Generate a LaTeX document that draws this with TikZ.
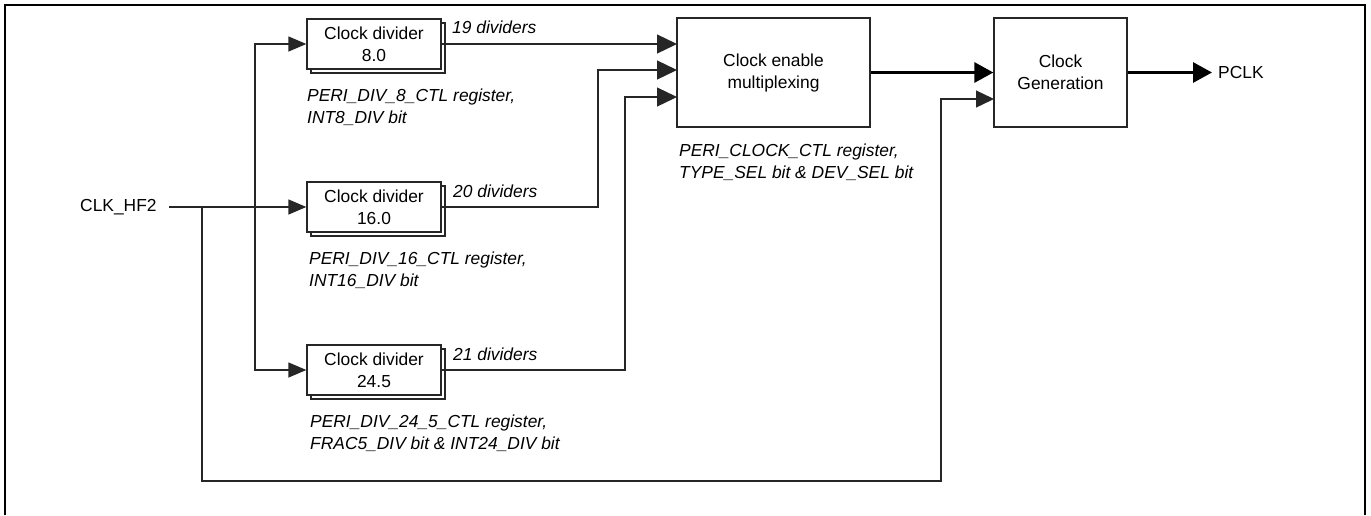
\documentclass[tikz,border=0pt]{standalone}
\usepackage{fontspec}
\setmainfont{Liberation Sans}
\usetikzlibrary{arrows.meta,shadows}
\begin{document}
\begin{tikzpicture}[x=1pt,y=-1pt,
  font=\fontsize{17.4}{22}\selectfont,
  ln/.style={line width=1.3pt,draw=black!85},
  arr/.style={ln,-{Triangle[length=18pt,width=15pt]}},
  marr/.style={ln,-{Triangle[length=20pt,width=19pt]}},
  garr/.style={ln,-{Triangle[length=18pt,width=17pt]}},
  tarr/.style={line width=3pt,draw=black,-{Triangle[length=19pt,width=20pt]}},
  divbox/.style={draw=black!85,line width=1.3pt,fill=white,minimum width=134pt,minimum height=50pt,inner sep=0pt,align=center,
     copy shadow={shadow xshift=4pt,shadow yshift=-4pt,draw=black!85,line width=1.3pt,fill=white}},
  bigbox/.style={draw=black!85,line width=1.3pt,minimum height=109pt,inner sep=0pt,align=center},
  lbl/.style={inner sep=0pt,anchor=west,align=left,font=\fontsize{17.4}{22}\selectfont\itshape},
  plain/.style={inner sep=0pt}]
\useasboundingbox (0,0) rectangle (1371,515);
% frame
\draw[line width=2.5pt] (5,515) -- (5,5) -- (1365,5) -- (1365,515);

% boxes
\node[divbox] (d8) at (374,44) {Clock divider\\8.0};
\node[divbox] (d16) at (374,207) {Clock divider\\16.0};
\node[divbox] (d24) at (374,370) {Clock divider\\24.5};
\node[bigbox,minimum width=193pt] (mux) at (773.5,72.5) {Clock enable\\multiplexing};
\node[bigbox,minimum width=133pt] (cg) at (1060.5,72.5) {Clock\\Generation};

% texts
\node[plain,anchor=west] (clk) at (80,207) {CLK\_HF2};
\node[plain,anchor=west] (pclk) at (1218,72.5) {PCLK};
\node[lbl] (t19) at (452,27) {19 dividers};
\node[lbl] (t20) at (453,191) {20 dividers};
\node[lbl] (t21) at (453,354) {21 dividers};
\node[lbl] (r8) at (307,107.5) {PERI\_DIV\_8\_CTL register,\\INT8\_DIV bit};
\node[lbl] (r16) at (309,270) {PERI\_DIV\_16\_CTL register,\\INT16\_DIV bit};
\node[lbl] (r24) at (310,433) {PERI\_DIV\_24\_5\_CTL register,\\FRAC5\_DIV bit \& INT24\_DIV bit};
\node[lbl] (rm) at (679,162.5) {PERI\_CLOCK\_CTL register,\\TYPE\_SEL bit \& DEV\_SEL bit};

% coordinates
\coordinate (b1) at (255,207);
\coordinate (b2) at (202,207);
\coordinate (low) at (941,481);
\coordinate (cg2) at (994,99);
\coordinate (m1) at (677,44);
\coordinate (m2) at (677,70);
\coordinate (m3) at (677,97);
\coordinate (j16) at (598,207);
\coordinate (j24) at (625,370);

% connectors
\draw[arr] ([xshift=12pt]clk.east) -- (d16.west);
\draw[arr] (b1) |- (d8.west);
\draw[arr] (b1) |- (d24.west);
\draw[garr] (b2) |- (low) |- (cg2);
\draw[marr] (d8.east) -- (m1);
\draw[marr] (d16.east) -- (j16) |- (m2);
\draw[marr] (d24.east) -- (j24) |- (m3);
\draw[tarr] (mux.east) -- (cg.west);
\draw[tarr] (cg.east) -- ([xshift=-6pt]pclk.west);
\end{tikzpicture}
\end{document}
